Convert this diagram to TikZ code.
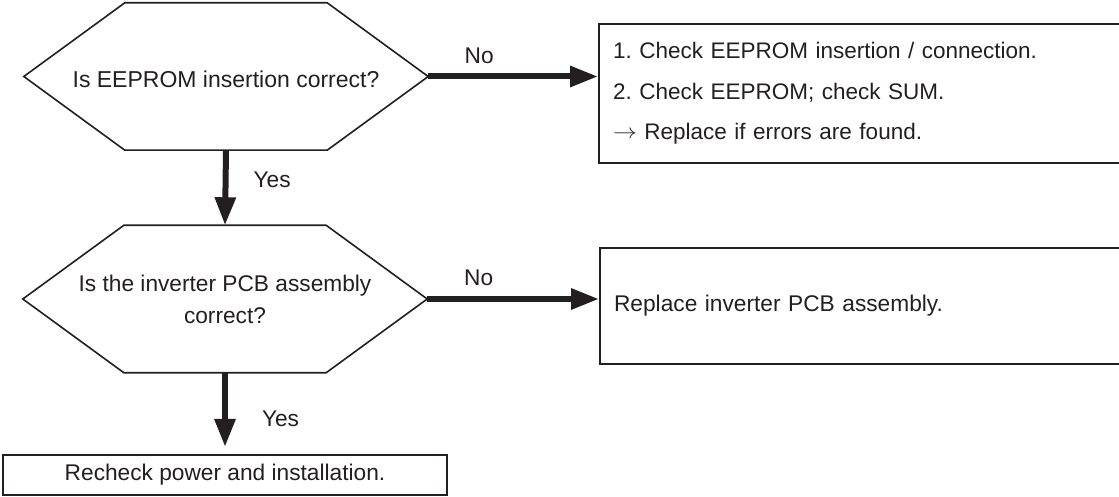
\documentclass[tikz,border=0pt]{standalone}
\usepackage{fontspec}
\usepackage{graphicx}
\setmainfont{Liberation Sans}
\definecolor{inkblack}{RGB}{35,31,32}
\usetikzlibrary{arrows.meta,positioning}
\frenchspacing

\begin{document}
\begin{tikzpicture}[x=1pt, y=-1pt,
    every node/.style={text=inkblack, font=\fontsize{22.7}{27}\selectfont},
    flowarr/.style={-{Triangle[length=28pt, width=20pt]}, line width=6pt, inkblack},
    hexline/.style={line width=1.6pt, inkblack, line join=miter},
    query/.style={minimum width=404pt, minimum height=147pt, inner sep=0pt,
                  align=center},
    actbox/.style={draw=inkblack, line width=2.2pt, anchor=north west, align=left,
                   inner xsep=14pt, text width=512pt},
    lbl/.style={inner sep=3pt}
  ]
  \useasboundingbox (0,0) rectangle (1119,497);

  % questions
  \node[query, font=\fontsize{23}{27}\selectfont, text height=22pt] (q1) at (226,76.5)
    {Is EEPROM insertion correct?};
  \node[query, font=\fontsize{22.7}{32}\selectfont] (q2) at (225,299)
    {Is the inverter PCB assembly\\correct?};
  \draw[hexline] (q1.west) -- ([xshift=101pt]q1.north west) -- ([xshift=-101pt]q1.north east)
    -- (q1.east) -- ([xshift=-101pt]q1.south east) -- ([xshift=101pt]q1.south west) -- cycle;
  \draw[hexline] (q2.west) -- ([xshift=101pt]q2.north west) -- ([xshift=-101pt]q2.north east)
    -- (q2.east) -- ([xshift=-101pt]q2.south east) -- ([xshift=101pt]q2.south west) -- cycle;

  % actions
  \node[actbox, minimum height=139pt, font=\fontsize{22.5}{40.5}\selectfont] (a1) at (598,23)
    {1. Check EEPROM insertion / connection.\\
     2. Check EEPROM; check SUM.\\
     \raisebox{1.5pt}{\scalebox{1.15}[1]{$\rightarrow$}} Replace if errors are found.};
  \node[actbox, minimum height=116pt] (a2) at (599,247) {Replace inverter PCB assembly.};
  \node[draw=inkblack, line width=2.2pt, minimum width=444pt, minimum height=40pt]
    (rc) at (225,475) {Recheck power and installation.};

  % connectors
  \draw[flowarr] (q1.east) -- node[lbl, above=7pt, pos=0.3] (no1) {No} (q1.east -| a1.west);
  \draw[flowarr] (q2.east) -- node[lbl, above=7pt, pos=0.3] (no2) {No} (q2.east -| a2.west);
  \draw[flowarr] (q1.south) -- node[lbl, right=22pt, pos=0.4] (yes1) {Yes} (q2.north);
  \draw[flowarr, shorten >=7pt] (q2.south) -- node[lbl, right=31pt, pos=0.57] (yes2) {Yes} (rc.north);
\end{tikzpicture}
\end{document}
